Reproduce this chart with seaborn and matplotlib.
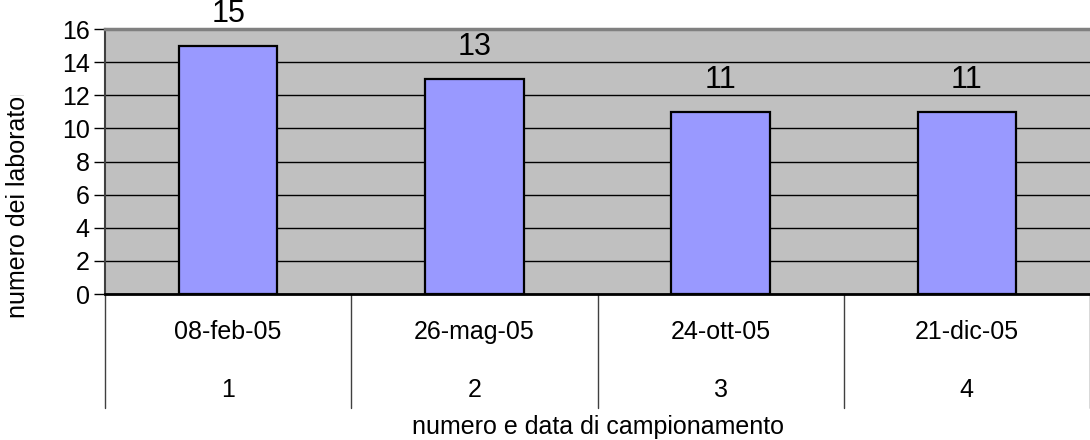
import matplotlib
matplotlib.use("Agg")
import matplotlib.pyplot as plt
import matplotlib.transforms as mtransforms
from matplotlib.patches import Rectangle
import seaborn as sns
import pandas as pd

# ====== Data ======
numeri = ["1", "2", "3", "4"]
date = ["08-feb-05", "26-mag-05", "24-ott-05", "21-dic-05"]
laboratori = [15, 13, 11, 11]

df = pd.DataFrame({"data": date, "lab": laboratori})

sns.set_theme(style="white")
plt.rcParams["font.family"] = ["Liberation Sans", "DejaVu Sans"]
plt.rcParams["text.color"] = "black"
plt.rcParams["ytick.labelcolor"] = "black"

W, H = 1090, 440
fig = plt.figure(figsize=(W / 100, H / 100), dpi=100)
ax = fig.add_axes([105 / W, (H - 294) / H, (1090 - 105) / W, (294 - 29) / H])

sns.barplot(data=df, x="data", y="lab", ax=ax, color="#9999FF",
            saturation=1, width=0.4, edgecolor="black", linewidth=1.6, zorder=3)

ax.set_facecolor("#C0C0C0")
ax.set_ylim(0, 16)
ax.set_xlim(-0.5, 3.5)
ax.set_yticks(range(0, 17, 2))
ax.yaxis.grid(True, color="black", linewidth=1, zorder=1)
ax.set_axisbelow(True)
ax.tick_params(axis="y", which="both", left=True, length=8, width=1,
               color="black", labelsize=18, pad=3, labelcolor="black")
ax.tick_params(axis="x", bottom=False, labelbottom=False)

ax.spines["right"].set_visible(False)
ax.spines["top"].set_color("#808080")
ax.spines["top"].set_linewidth(2.5)
ax.spines["left"].set_color("#404040")
ax.spines["left"].set_linewidth(1.5)
ax.spines["bottom"].set_color("black")
ax.spines["bottom"].set_linewidth(2)

# bar values
for i, v in enumerate(laboratori):
    ax.annotate(str(v), (i, v), xytext=(0, 12), textcoords="offset points",
                ha="center", va="bottom", fontsize=22, color="black")

# two-level category axis
trans = mtransforms.blended_transform_factory(ax.transData, ax.transAxes)
axh = 294 - 29
for i in range(len(date) + 1):
    ax.plot([i - 0.5, i - 0.5], [0, -(408 - 294) / axh], transform=trans,
            color="#404040", linewidth=1, clip_on=False)
for i, (d, n) in enumerate(zip(date, numeri)):
    ax.text(i, -(332 - 294) / axh, d, transform=trans, ha="center",
            va="center", fontsize=18, color="black")
    ax.text(i, -(390 - 294) / axh, n, transform=trans, ha="center",
            va="center", fontsize=18, color="black")

ax.set_xlabel("")
ax.set_ylabel("")
fig.text(598 / W, (H - 427) / H, "numero e data di campionamento",
         ha="center", va="center", fontsize=18, color="black")

# y label, clipped at the top as in the original
yl = fig.text(18 / W, (H - 318) / H, "numero dei laboratori", rotation=90,
              rotation_mode="anchor", ha="left", va="center", fontsize=18,
              color="black")
clip = Rectangle((0, 0), 1, (H - 95) / H, transform=fig.transFigure,
                 visible=False)
fig.add_artist(clip)
yl.set_clip_path(clip)
yl.set_clip_on(True)

fig.savefig("out.png", dpi=100)
